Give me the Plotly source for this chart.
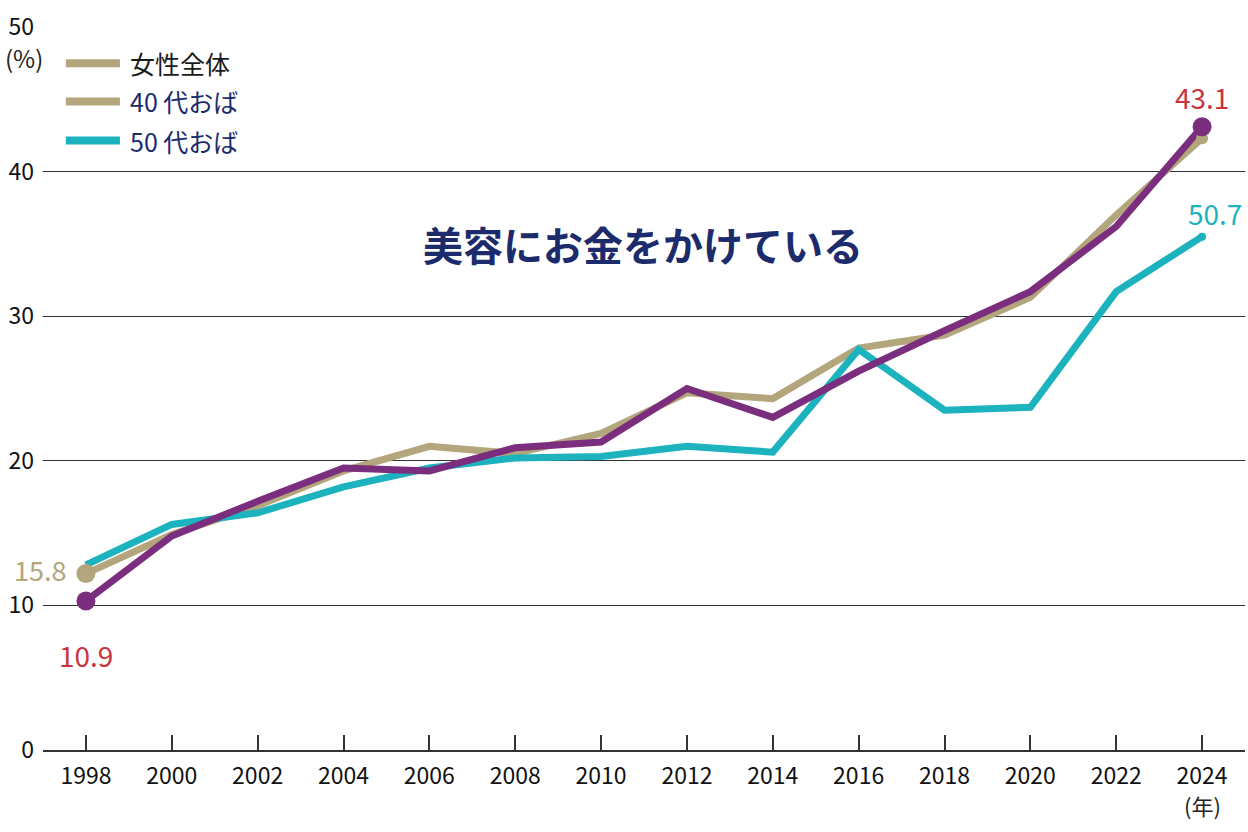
import plotly.graph_objects as go

years = [1998, 2000, 2002, 2004, 2006, 2008, 2010, 2012, 2014, 2016, 2018, 2020, 2022, 2024]
women_all = [12.2, 14.9, 16.9, 19.3, 21.0, 20.5, 21.9, 24.7, 24.3, 27.8, 28.7, 31.3, 37.0, 42.3]
ojiba40 = [10.3, 14.8, 17.2, 19.5, 19.3, 20.9, 21.3, 25.0, 23.0, 26.2, 29.0, 31.7, 36.2, 43.1]
ojiba50 = [12.8, 15.6, 16.4, 18.2, 19.5, 20.2, 20.3, 21.0, 20.6, 27.7, 23.5, 23.7, 31.7, 35.5]

legend_labels = ["女性全体", "40 代おば", "50 代おば"]
label_start_all = "15.8"
label_start_40 = "10.9"
label_end_40 = "43.1"
label_end_50 = "50.7"
y_ticks = [0, 10, 20, 30, 40, 50]
x_ticks = years

TAN = "#b3a57c"
PURPLE = "#7a2e7d"
TEAL = "#1cb3be"
RED = "#c9343e"
NAVY = "#1b2b6b"
FONT = "Noto Sans CJK JP"

fig = go.Figure()
fig.add_trace(go.Scatter(x=years, y=women_all, mode="lines", line=dict(color=TAN, width=7),
                         showlegend=False, hoverinfo="skip"))
fig.add_trace(go.Scatter(x=years, y=ojiba50, mode="lines", line=dict(color=TEAL, width=7),
                         showlegend=False, hoverinfo="skip"))
fig.add_trace(go.Scatter(x=years, y=ojiba40, mode="lines", line=dict(color=PURPLE, width=7),
                         showlegend=False, hoverinfo="skip"))
# end markers
fig.add_trace(go.Scatter(x=[years[0], years[-1]], y=[women_all[0], women_all[-1]], mode="markers",
                         marker=dict(color=TAN, size=[19, 12], opacity=1, line=dict(width=0)),
                         showlegend=False, hoverinfo="skip"))
fig.add_trace(go.Scatter(x=[years[-1]], y=[ojiba50[-1]], mode="markers",
                         marker=dict(color=TEAL, size=8, opacity=1, line=dict(width=0)),
                         showlegend=False, hoverinfo="skip"))
fig.add_trace(go.Scatter(x=[years[0], years[-1]], y=[ojiba40[0], ojiba40[-1]], mode="markers",
                         marker=dict(color=PURPLE, size=19, opacity=1, line=dict(width=0)),
                         showlegend=False, hoverinfo="skip"))

annotations = [
    dict(x=years[0], y=women_all[0], xref="x", yref="y", text=label_start_all, showarrow=False,
         xanchor="right", xshift=-18, yshift=4, font=dict(color=TAN, size=27, family=FONT)),
    dict(x=years[0], y=ojiba40[0], xref="x", yref="y", text=label_start_40, showarrow=False,
         xanchor="center", yshift=-54, font=dict(color=RED, size=28, family=FONT)),
    dict(x=years[-1], y=ojiba40[-1], xref="x", yref="y", text=label_end_40, showarrow=False,
         xanchor="center", yshift=30, font=dict(color=RED, size=28, family=FONT)),
    dict(x=years[-1], y=ojiba50[-1], xref="x", yref="y", text=label_end_50, showarrow=False,
         xanchor="left", xshift=-16, yshift=24, font=dict(color=TEAL, size=28, family=FONT)),
    dict(x=0.499, y=0.70, xref="paper", yref="paper", text="<b>美容にお金をかけている</b>",
         showarrow=False, xanchor="center", yanchor="middle",
         font=dict(color=NAVY, size=40, family=FONT)),
    dict(x=0.0, xref="paper", y=1.0, yref="paper", text="(%)", showarrow=False, xanchor="right",
         yanchor="top", xshift=2, yshift=-11, font=dict(color="#222", size=24, family=FONT)),
    dict(x=years[-1], xref="x", y=0, yref="paper", text="(年)", showarrow=False, xanchor="center",
         yanchor="top", yshift=-37, font=dict(color="#222", size=22, family=FONT)),
]

legend_colors = [TAN, TAN, TEAL]
legend_text_colors = ["#1a1a1a", NAVY, NAVY]
legend_y = [0.95, 0.897, 0.843]
shapes = []
for lab, lc, tc, ly in zip(legend_labels, legend_colors, legend_text_colors, legend_y):
    shapes.append(dict(type="line", xref="paper", yref="paper", x0=0.019, x1=0.064, y0=ly, y1=ly,
                       line=dict(color=lc, width=8)))
    annotations.append(dict(x=0.071, y=ly, xref="paper", yref="paper", text=lab, showarrow=False,
                            xanchor="left", yanchor="middle", font=dict(color=tc, size=25, family=FONT)))

fig.update_layout(
    width=1248, height=832,
    margin=dict(l=43, r=3, t=27, b=82),
    paper_bgcolor="white", plot_bgcolor="white",
    font=dict(family=FONT, color="#111"),
    xaxis=dict(range=[1997, 2025], tickvals=x_ticks, ticktext=[str(y) for y in x_ticks],
               showgrid=False, zeroline=False, showline=True, linecolor="#333", linewidth=1.5,
               ticks="inside", ticklen=15, tickwidth=1.5, tickcolor="#333",
               tickfont=dict(size=23, family=FONT, color="#111"), ticklabelstandoff=5),
    yaxis=dict(range=[0, 50], tickvals=y_ticks, showgrid=True, gridcolor="#333", gridwidth=1.3,
               zeroline=False, showline=False, ticks="",
               tickfont=dict(size=23, family=FONT, color="#111"), ticklabelstandoff=8),
    annotations=annotations,
    shapes=shapes,
)

fig.write_html("out.html")
